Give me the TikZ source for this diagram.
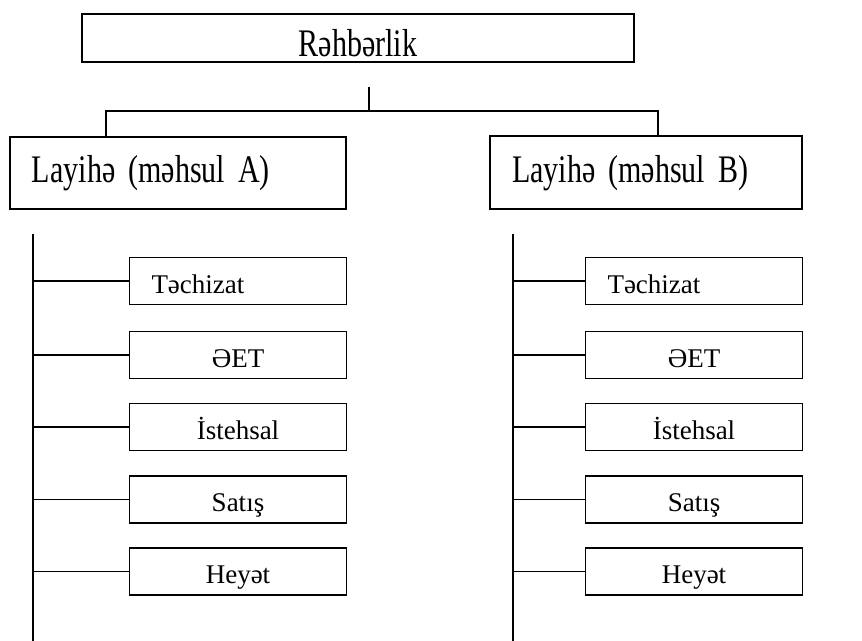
\documentclass[tikz,border=0pt]{standalone}
\usepackage{fontspec}
\setmainfont{Liberation Serif}
\newfontfamily\headfont[FakeStretch=0.77]{Liberation Serif}
\newcommand\headtype{\headfont\fontsize{19.5}{20}\selectfont\spaceskip=3.2pt\relax}
\tikzset{
  unitbox/.style={draw, line width=0.8pt, inner xsep=11pt, inner ysep=0pt, text depth=0pt},
  headbox/.style={unitbox, line width=1pt, font=\headtype},
  deptbox/.style={unitbox, line width=0.7pt, minimum width=108.5pt, minimum height=23.5pt, text width=86.5pt, text height=12.2pt, font=\fontsize{13.5}{14}\selectfont},
  link/.style={line width=0.7pt}
}
\begin{document}
\begin{tikzpicture}[x=0.5pt, y=-0.5pt]
  \useasboundingbox (0,0) rectangle (862,641);
  \node[headbox, line width=1.1pt, minimum width=276pt, minimum height=24pt, text height=18.9pt] (top) at (358,38) {Rəhbərlik};
  \node[headbox, minimum width=168pt, text width=146pt, align=left, minimum height=36pt, text height=9.9pt] (projA) at (178,173) {Layihə (məhsul A)};
  \node[headbox, minimum width=156pt, text width=134pt, align=left, minimum height=36.5pt, text height=9.9pt] (projB) at (646,172.5) {Layihə (məhsul B)};
  \coordinate (stem) at (369,87);
  \coordinate (busA) at (106,111);
  \coordinate (busB) at (658,111);
  \draw[link] (stem) -- (stem |- busA);
  \draw[link] (busA |- projA.north) -- (busA) -- (busB) -- (busB |- projB.north);
  \coordinate (spineA) at (33,234);
  \coordinate (spineB) at (513,234);
  \coordinate (footA) at (33,641);
  \coordinate (footB) at (513,641);
  \draw[link] (spineA) -- (footA);
  \draw[link] (spineB) -- (footB);
  \foreach \key/\txt/\al/\y in {sup/Təchizat/left/281, rnd/ƏET/center/355, prod/İstehsal/center/427, sale/Satış/center/499.5, staff/Heyət/center/571.5} {
    \node[deptbox, align=\al] (A\key) at (238,\y) {\txt};
    \node[deptbox, align=\al] (B\key) at (694,\y) {\txt};
    \draw[link] (A\key.west -| spineA) -- (A\key.west);
    \draw[link] (B\key.west -| spineB) -- (B\key.west);
  }
\end{tikzpicture}
\end{document}
